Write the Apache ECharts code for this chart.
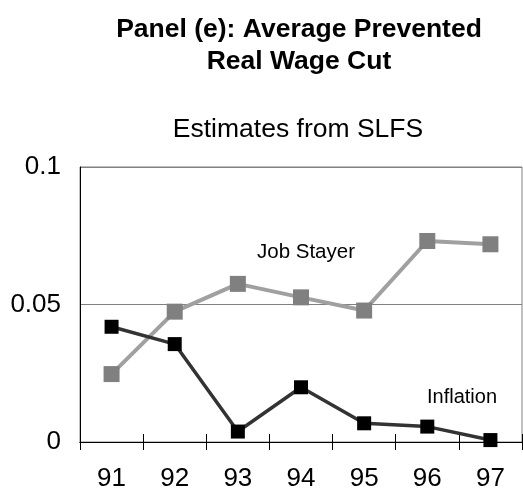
<!DOCTYPE html>
<html>
<head>
<meta charset="utf-8">
<script src="https://cdn.jsdelivr.net/npm/echarts@6/dist/echarts.min.js"></script>
<style>html,body{margin:0;padding:0;background:#fff;}#c{width:523px;height:493px;}</style>
</head>
<body>
<div id="c"></div>
<script>
var categories = ['91', '92', '93', '94', '95', '96', '97'];
var jobStayer = [0.0247, 0.0474, 0.0575, 0.0526, 0.0478, 0.0731, 0.0719];
var inflation = [0.0419, 0.0356, 0.0038, 0.0199, 0.0068, 0.0056, 0.0007];
var yTicks = { min: 0, max: 0.1, interval: 0.05 };

var FONT = "'Liberation Sans', Arial, sans-serif";
var chart = echarts.init(document.getElementById('c'));
chart.setOption({
  animation: false,
  backgroundColor: '#fff',
  title: [
    { text: 'Panel (e): Average Prevented\nReal Wage Cut', left: 294, top: 9, textAlign: 'center',
      textStyle: { fontFamily: FONT, fontSize: 26.5, fontWeight: 'bold', color: '#000', lineHeight: 32 } },
    { text: 'Estimates from SLFS', left: 293, top: 111, textAlign: 'center',
      textStyle: { fontFamily: FONT, fontSize: 26.5, fontWeight: 'normal', color: '#000', lineHeight: 27 } }
  ],
  grid: { left: 80, right: 1, top: 167, bottom: 51, show: true, borderColor: '#808080', borderWidth: 1 },
  xAxis: [
    { type: 'category', data: categories, boundaryGap: true, position: 'bottom',
      axisLine: { show: true, lineStyle: { color: '#000', width: 1 } },
      axisTick: { show: true, inside: true, length: 8, lineStyle: { color: '#000' } },
      axisLabel: { fontFamily: FONT, fontSize: 26, color: '#000', margin: 24 },
      splitLine: { show: false } },
    { type: 'category', data: categories, boundaryGap: true, position: 'bottom', gridIndex: 0,
      axisLine: { show: true, lineStyle: { color: '#000', width: 1 } },
      axisTick: { show: true, inside: false, length: 8, lineStyle: { color: '#000' } },
      axisLabel: { show: false },
      splitLine: { show: false } }
  ],
  yAxis: {
    type: 'value', min: yTicks.min, max: yTicks.max, interval: yTicks.interval,
    axisLine: { show: true, lineStyle: { color: '#000', width: 1 } },
    axisTick: { show: false },
    axisLabel: { fontFamily: FONT, fontSize: 26, color: '#000', margin: 19 },
    splitLine: { show: true, lineStyle: { color: '#808080', width: 1 } }
  },
  series: [
    { name: 'Job Stayer', type: 'line', data: jobStayer, symbol: 'rect', symbolSize: 16,
      lineStyle: { color: '#a0a0a0', width: 4 }, itemStyle: { color: '#808080' }, z: 3 },
    { name: 'Inflation', type: 'line', data: inflation, symbol: 'rect', symbolSize: 14,
      lineStyle: { color: '#333333', width: 3.5 }, itemStyle: { color: '#000000' }, z: 4 }
  ],
  graphic: [
    { type: 'text', left: 257, top: 252 - 10, style: { text: 'Job Stayer', fontFamily: FONT, fontSize: 20.5, fill: '#000' } },
    { type: 'text', left: 427, top: 397 - 10, style: { text: 'Inflation', fontFamily: FONT, fontSize: 20, fill: '#000' } }
  ]
});
</script>
</body>
</html>
